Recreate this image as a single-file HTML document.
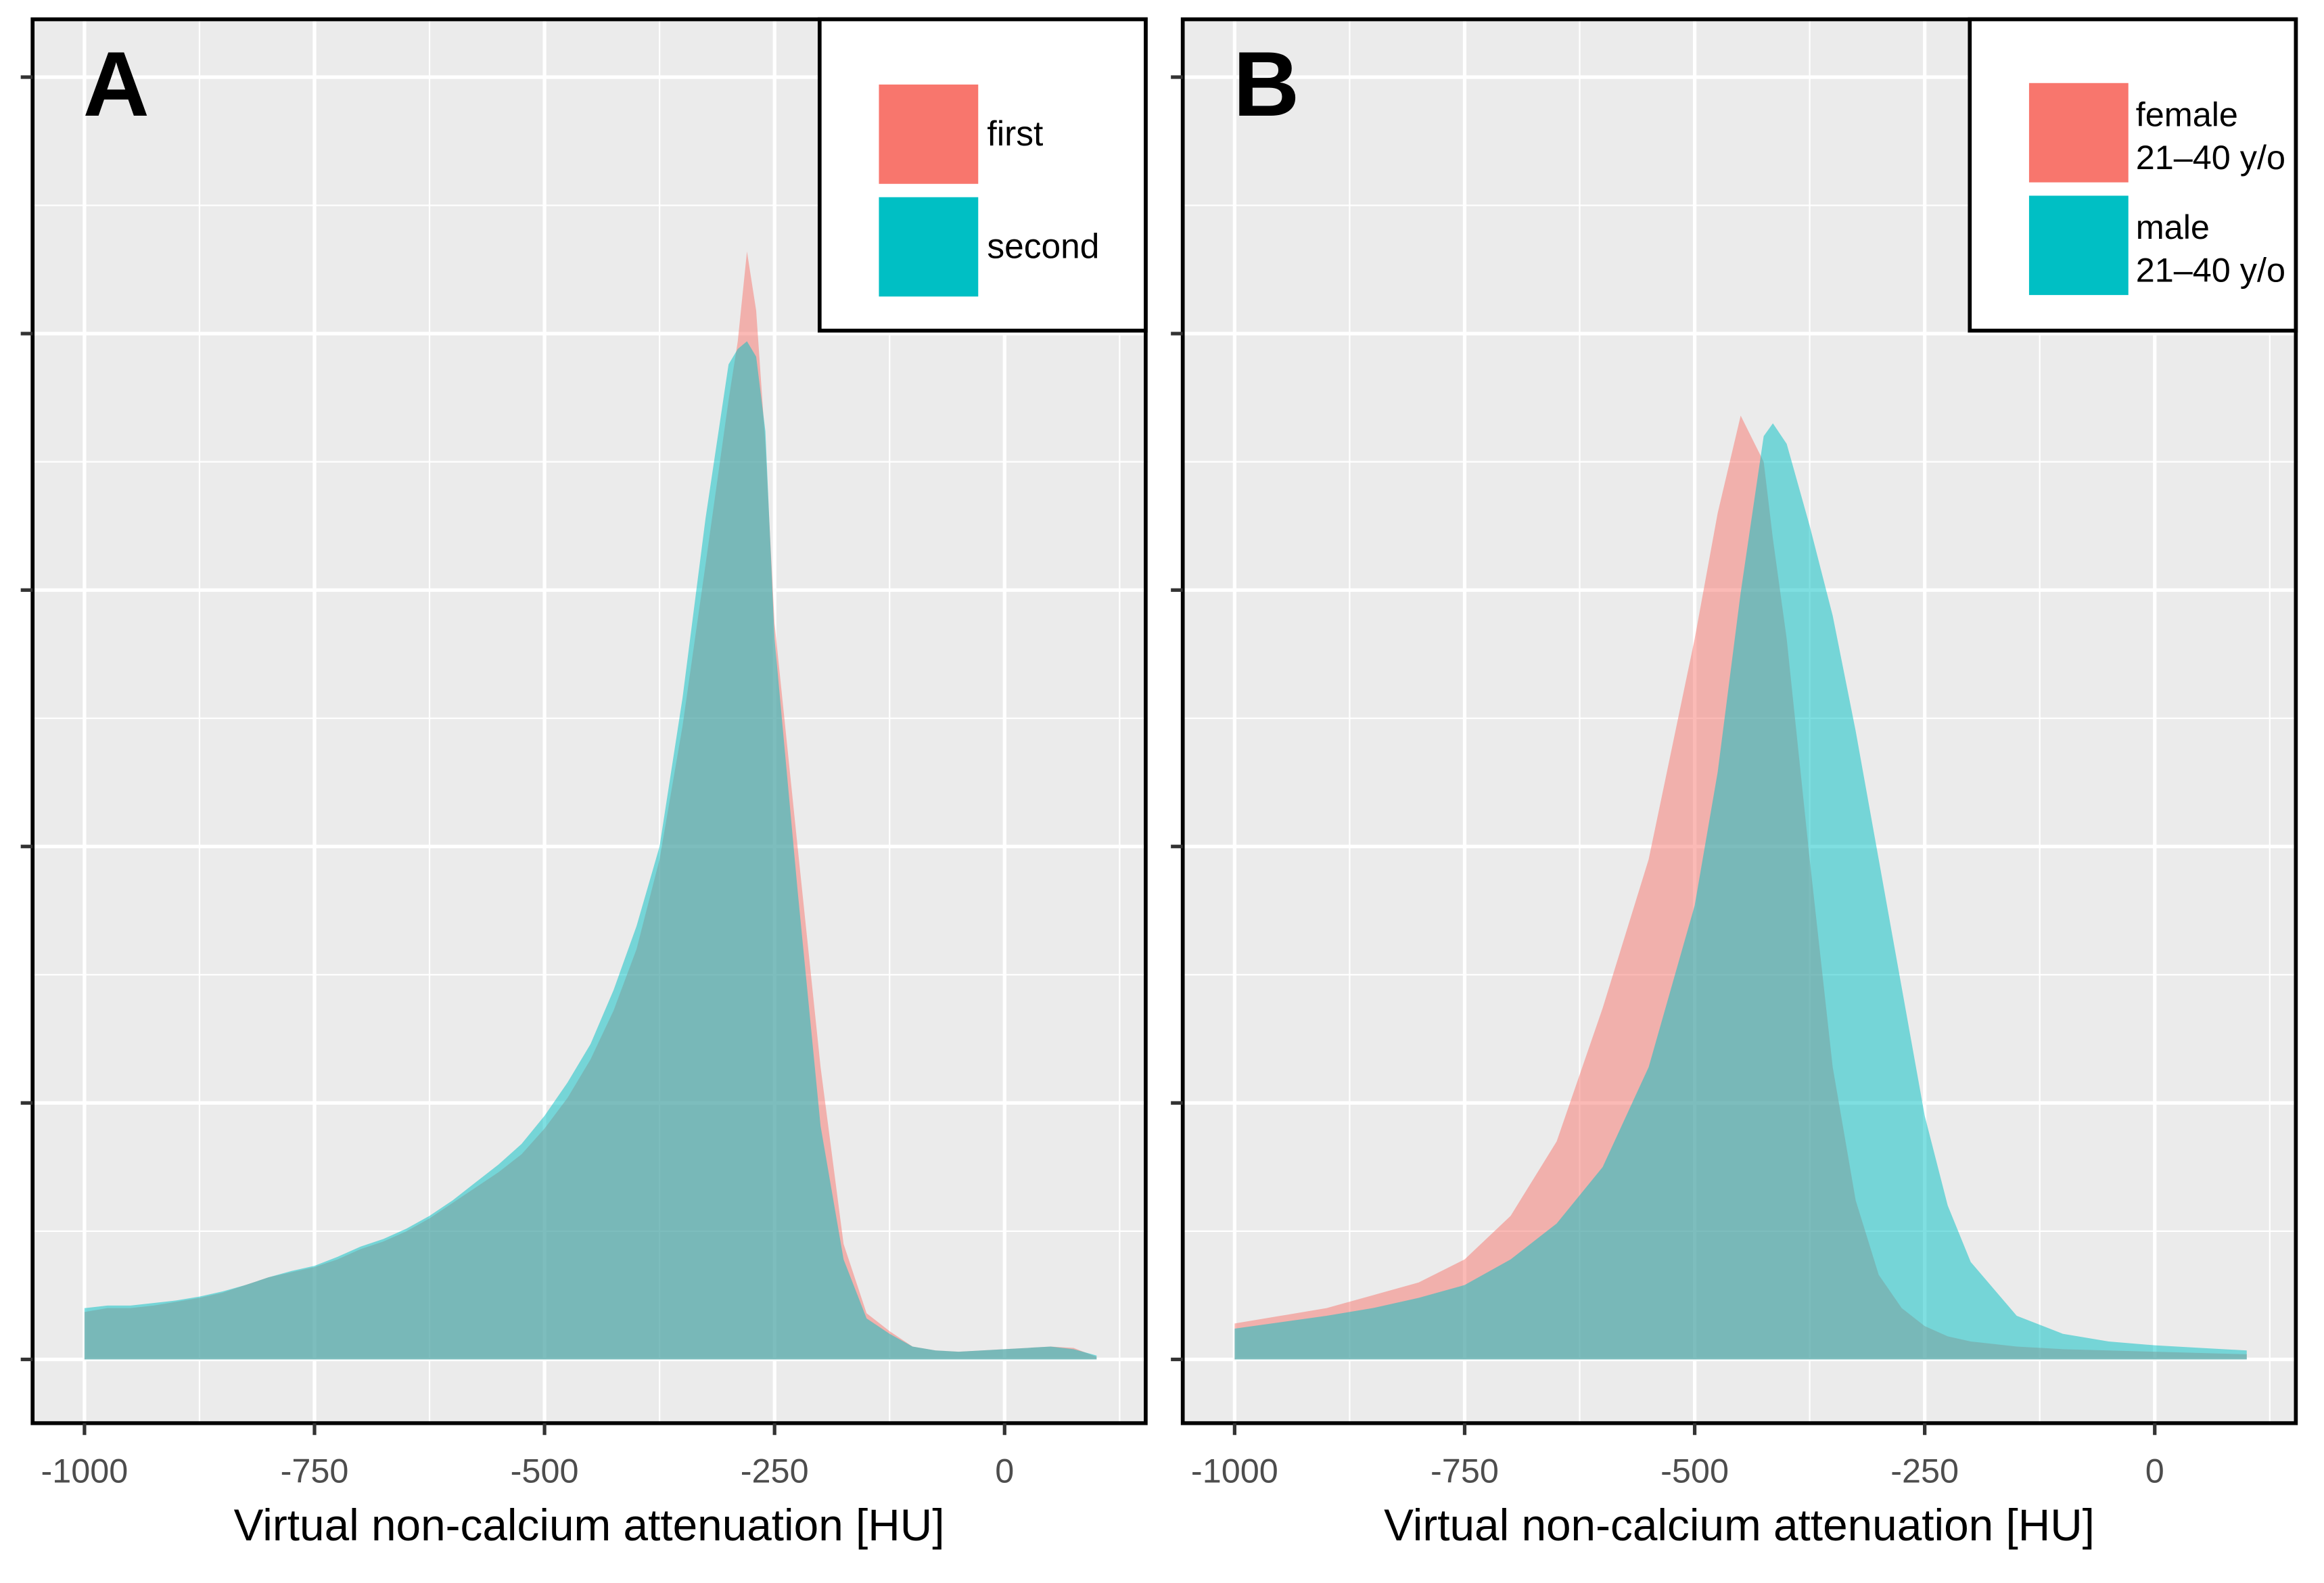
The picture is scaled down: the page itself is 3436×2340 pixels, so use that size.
<!DOCTYPE html>
<html><head><meta charset="utf-8"><style>
html,body{margin:0;padding:0;background:#fff}
svg{display:block}
text{font-family:"Liberation Sans",Arial,sans-serif}
</style></head><body>
<svg id="fig" width="3436" height="2340" viewBox="0 0 1568 1067.8" xmlns="http://www.w3.org/2000/svg"></svg>
<script>
// Panel A data (density, arbitrary units)
const xA = [-1000,-975,-950,-925,-900,-875,-850,-825,-800,-775,-750,-725,-700,-675,-650,-625,-600,-575,-550,-525,-500,-475,-450,-425,-400,-375,-350,-325,-300,-290,-280,-270,-260,-250,-225,-200,-175,-150,-125,-100,-75,-50,-25,0,25,50,75,100];
const firstA = [0.185,0.2,0.2,0.21,0.225,0.24,0.26,0.29,0.32,0.34,0.36,0.39,0.43,0.46,0.5,0.55,0.61,0.67,0.73,0.8,0.9,1.02,1.17,1.36,1.6,1.95,2.47,3.1,3.74,3.97,4.32,4.09,3.57,2.87,2.0,1.14,0.45,0.18,0.11,0.05,0.035,0.03,0.035,0.04,0.045,0.05,0.045,0.01];
const secondA = [0.2,0.21,0.21,0.22,0.23,0.245,0.265,0.29,0.32,0.345,0.365,0.4,0.44,0.47,0.51,0.56,0.62,0.69,0.76,0.84,0.95,1.08,1.23,1.44,1.69,2.0,2.58,3.28,3.88,3.94,3.97,3.91,3.62,2.81,1.83,0.91,0.39,0.16,0.1,0.05,0.035,0.03,0.035,0.04,0.045,0.05,0.04,0.015];
// Panel B data
const xB = [-1000,-950,-900,-850,-800,-750,-700,-650,-600,-550,-500,-475,-450,-425,-415,-400,-375,-350,-325,-300,-275,-250,-225,-200,-150,-100,-50,0,50,100];
const femaleB = [0.14,0.17,0.2,0.25,0.3,0.39,0.56,0.85,1.37,1.95,2.81,3.3,3.68,3.5,3.2,2.81,1.95,1.14,0.62,0.33,0.2,0.13,0.09,0.07,0.05,0.04,0.035,0.03,0.025,0.02];
const maleB = [0.12,0.145,0.17,0.2,0.24,0.29,0.39,0.53,0.75,1.14,1.77,2.29,2.99,3.6,3.65,3.57,3.25,2.9,2.45,1.95,1.45,0.95,0.6,0.38,0.17,0.1,0.07,0.055,0.045,0.035];
const xTicks = [-1000,-750,-500,-250,0];
const xTickLabels = ["-1000","-750","-500","-250","0"];
const yTicks = [0,1,2,3,4,5];
const legendA = ["first","second"];
const legendB = [["female","21\u201340 y/o"],["male","21\u201340 y/o"]];

const NS="http://www.w3.org/2000/svg";
const svg=document.getElementById('fig');
function mk(tag,attrs,parent){const e=document.createElementNS(NS,tag);for(const k in attrs)e.setAttribute(k,attrs[k]);(parent||svg).appendChild(e);return e;}

function panel(opt){
  const g=mk('g',{});
  
  
  const L=opt.left,R=opt.left+751,T=13,B=960;
  const x0=opt.left+35, pxPer=155.2/250;
  const sx=v=>x0+(v+1000)*pxPer;
  const sy=v=>917-v*173;
  const bg=mk('rect',{x:L,y:T,width:R-L,height:B-T,fill:'#ebebeb'},g);
  
  
  for(let v=-1125;v<=125;v+=250){const X=sx(v);if(X>L&&X<R)mk('line',{x1:X,x2:X,y1:T,y2:B,stroke:'#fff','stroke-width':1},g);}
  for(let i=0;i<yTicks.length;i++){const Y=sy(yTicks[i]+0.5);if(Y>T&&Y<B)mk('line',{x1:L,x2:R,y1:Y,y2:Y,stroke:'#fff','stroke-width':1},g);}
  xTicks.forEach(v=>{const X=sx(v);mk('line',{x1:X,x2:X,y1:T,y2:B,stroke:'#fff','stroke-width':2.4},g);});
  yTicks.forEach(v=>{const Y=sy(v);mk('line',{x1:L,x2:R,y1:Y,y2:Y,stroke:'#fff','stroke-width':2.4},g);});
  opt.series.forEach(s=>{
    let d='M'+sx(s.x[0])+','+sy(0);
    s.x.forEach((v,i)=>{d+=' L'+sx(v).toFixed(2)+','+sy(s.y[i]).toFixed(2);});
    d+=' L'+sx(s.x[s.x.length-1])+','+sy(0)+' Z';
    const p=mk('path',{d:d,fill:s.color,'fill-opacity':0.5},g);
    
    
  });
  mk('rect',{x:L,y:T,width:R-L,height:B-T,fill:'none',stroke:'#000','stroke-width':2.6},g);
  xTicks.forEach((v,i)=>{const X=sx(v);mk('line',{x1:X,x2:X,y1:B,y2:B+8,stroke:'#333','stroke-width':2.4},g);
    const t=mk('text',{x:X,y:1000,'text-anchor':'middle','font-size':23,fill:'#4d4d4d'},g);t.textContent=xTickLabels[i];
    
    });
  yTicks.forEach(v=>{const Y=sy(v);mk('line',{x1:L-8,x2:L,y1:Y,y2:Y,stroke:'#333','stroke-width':2.4},g);});
  const tt=mk('text',{x:(L+R)/2,y:1039,'text-anchor':'middle','font-size':30,fill:'#000'},g);
  tt.textContent='Virtual non-calcium attenuation [HU]';
  
  
  const lab=mk('text',{x:L+34,y:78,'font-size':62,'font-weight':'bold',fill:'#000'},g);
  lab.textContent=opt.label;
  
  
  const lg=mk('g',{},g);
  
  
  mk('rect',{x:R-220,y:T,width:220,height:210,fill:'#fff',stroke:'#000','stroke-width':2.6},lg);
  opt.legend.forEach((lines,i)=>{
    const ky=(opt.label==='A'?57:56)+i*76;
    const key=mk('rect',{x:R-180,y:ky,width:67,height:67,fill:opt.series[i].color},lg);
    
    
    if(lines.length===1){
      const t=mk('text',{x:R-107,y:ky+41,'font-size':23.5,fill:'#000'},lg);t.textContent=lines[0];
      
      
    } else {
      lines.forEach((s,j)=>{const t=mk('text',{x:R-108,y:ky+29+j*29,'font-size':23,fill:'#000'},lg);t.textContent=s;
        
        });
    }
  });
}
panel({name:'panel-a',left:22,label:'A',legend:legendA.map(s=>[s]),series:[
  {name:'area-first',x:xA,y:firstA,color:'#F8766D'},
  {name:'area-second',x:xA,y:secondA,color:'#00BFC4'}]});
panel({name:'panel-b',left:798,label:'B',legend:legendB,series:[
  {name:'area-female',x:xB,y:femaleB,color:'#F8766D'},
  {name:'area-male',x:xB,y:maleB,color:'#00BFC4'}]});
</script>
</body></html>
